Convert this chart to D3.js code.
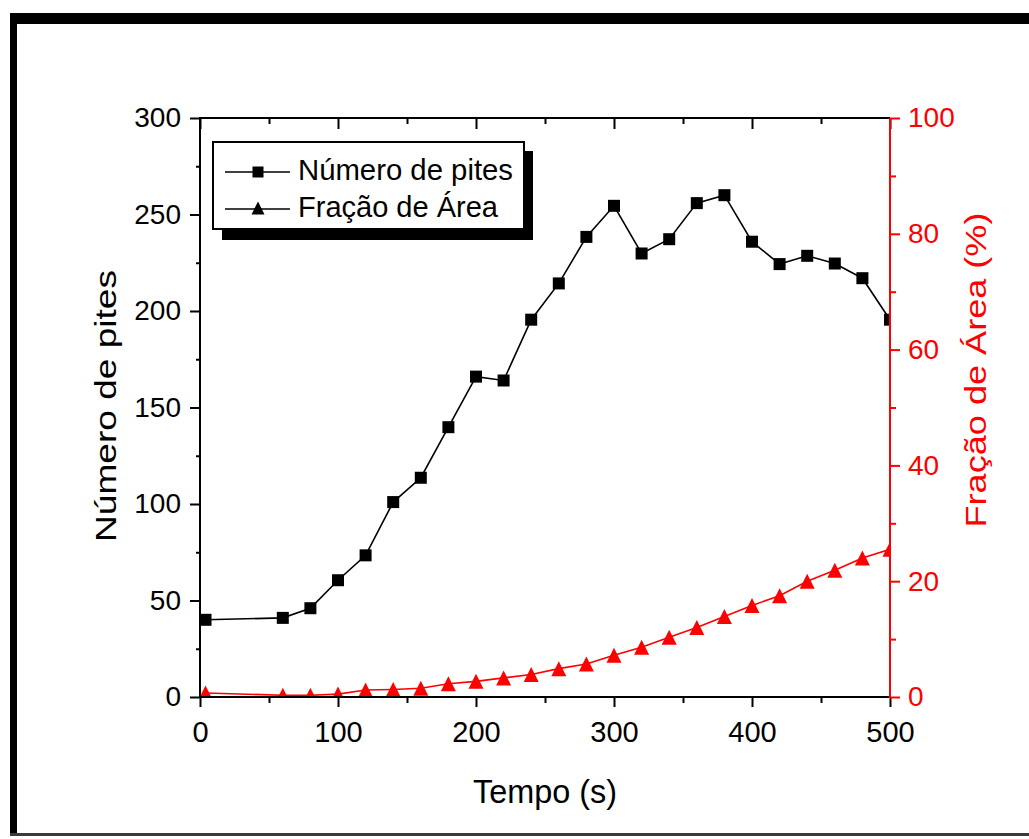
<!DOCTYPE html>
<html><head><meta charset="utf-8">
<script src="https://cdn.jsdelivr.net/npm/d3@7/dist/d3.min.js"></script>
<style>
body{margin:0;background:#fff}
svg{display:block}
text{font-family:"Liberation Sans",Arial,Helvetica,sans-serif}
</style>
</head><body>
<svg id="c" width="1029" height="839"></svg>
<script>
// ---- data ----
const tempo  = [4,60,80,100,120,140,160,180,200,220,240,260,280,300,320,340,360,380,400,420,440,460,480,500];
const pites  = [40,41,46,60.5,73.4,101,113.6,139.8,166,164,195.5,214.3,238.4,254.5,229.8,237.2,255.9,260,235.9,224.3,228.6,224.6,217,195.5];
const fracao = [0.7,0.3,0.3,0.5,1.2,1.3,1.5,2.3,2.7,3.3,3.9,4.9,5.7,7.2,8.6,10.3,12.0,13.9,15.8,17.5,20.0,21.9,24.0,25.5];
const xTicks = [0,100,200,300,400,500];
const xMinor = [50,150,250,350,450];
const yLeftTicks = [0,50,100,150,200,250,300];
const yLeftMinor = [25,75,125,175,225,275];
const yRightTicks = [0,20,40,60,80,100];
const yRightMinor = [10,30,50,70,90];
const seriesNames = ["Número de pites","Fração de Área"];
const xTitle = "Tempo (s)";
const yLeftTitle = "Número de pites";
const yRightTitle = "Fração de Área (%)";

// ---- layout ----
const L=200, R=890, T=118, B=697;
const RED="#ff0000";
const svg=d3.select("#c");

// outer frame
svg.append("rect").attr("x",10).attr("y",13).attr("width",1019).attr("height",11).attr("fill","#000");
svg.append("rect").attr("x",10).attr("y",13).attr("width",7).attr("height",822).attr("fill","#000");
svg.append("rect").attr("x",10).attr("y",833).attr("width",1019).attr("height",3).attr("fill","#3a3a3a");

const x=d3.scaleLinear().domain([0,500]).range([L,R]);
const yL=d3.scaleLinear().domain([0,300]).range([B,T]);
const yR=d3.scaleLinear().domain([0,100]).range([B,T]);

function styleAxis(g,color){
  g.select(".domain").remove();
  g.selectAll(".tick line").attr("stroke",color).attr("stroke-width",2);
  g.selectAll(".tick text").attr("fill",color).style("font-size","28px");
}

// bottom axis
const gB=svg.append("g").attr("transform",`translate(0,${B})`)
  .call(d3.axisBottom(x).tickValues(xTicks).tickSize(10).tickPadding(14).tickFormat(d3.format("d")));
styleAxis(gB,"#000"); gB.selectAll(".tick text").style("font-size","29px");
const gBm=svg.append("g").attr("transform",`translate(0,${B})`)
  .call(d3.axisBottom(x).tickValues(xMinor).tickSize(6).tickFormat(""));
styleAxis(gBm,"#000");
// top axis (ticks inward)
const gT=svg.append("g").attr("transform",`translate(0,${T})`)
  .call(d3.axisBottom(x).tickValues(xTicks).tickSize(11).tickFormat(""));
styleAxis(gT,"#000");
const gTm=svg.append("g").attr("transform",`translate(0,${T})`)
  .call(d3.axisBottom(x).tickValues(xMinor).tickSize(6).tickFormat(""));
styleAxis(gTm,"#000");
// left axis
const gL=svg.append("g").attr("transform",`translate(${L},0)`)
  .call(d3.axisLeft(yL).tickValues(yLeftTicks).tickSize(10).tickPadding(9).tickFormat(d3.format("d")));
styleAxis(gL,"#000");
const gLm=svg.append("g").attr("transform",`translate(${L},0)`)
  .call(d3.axisLeft(yL).tickValues(yLeftMinor).tickSize(4).tickFormat(""));
styleAxis(gLm,"#000");
// right axis
const gR=svg.append("g").attr("transform",`translate(${R},0)`)
  .call(d3.axisRight(yR).tickValues(yRightTicks).tickSize(10).tickPadding(8).tickFormat(d3.format("d")));
styleAxis(gR,RED);
const gRm=svg.append("g").attr("transform",`translate(${R},0)`)
  .call(d3.axisRight(yR).tickValues(yRightMinor).tickSize(6).tickFormat(""));
styleAxis(gRm,RED);

// frame lines
svg.append("line").attr("x1",L).attr("x2",R).attr("y1",T).attr("y2",T).attr("stroke","#000").attr("stroke-width",2);
svg.append("line").attr("x1",L-1).attr("x2",R).attr("y1",B).attr("y2",B).attr("stroke","#000").attr("stroke-width",2);
svg.append("line").attr("x1",L).attr("x2",L).attr("y1",T-1).attr("y2",B+1).attr("stroke","#000").attr("stroke-width",2);
svg.append("line").attr("x1",R).attr("x2",R).attr("y1",T).attr("y2",B+1).attr("stroke",RED).attr("stroke-width",2);

// clip
svg.append("clipPath").attr("id","plotclip").append("rect")
  .attr("x",L+1).attr("y",T+1).attr("width",R-L-2).attr("height",B-T-2);
const plot=svg.append("g").attr("clip-path","url(#plotclip)");

const triPath=(s)=>`M0,${-s/2}L${s/2},${s/2}L${-s/2},${s/2}Z`;

// series 1
const d1=tempo.map((t,i)=>[t,pites[i]]);
plot.append("path").datum(d1).attr("fill","none").attr("stroke","#000").attr("stroke-width",1.6)
  .attr("d",d3.line().x(d=>x(d[0])).y(d=>yL(d[1])));
plot.selectAll("rect.sq").data(d1).join("rect").attr("class","sq")
  .attr("x",d=>x(d[0])-6).attr("y",d=>yL(d[1])-6).attr("width",12).attr("height",12).attr("fill","#000");

// series 2
const d2=tempo.map((t,i)=>[t,fracao[i]]);
plot.append("path").datum(d2).attr("fill","none").attr("stroke",RED).attr("stroke-width",1.6)
  .attr("d",d3.line().x(d=>x(d[0])).y(d=>yR(d[1])));
plot.selectAll("path.tri").data(d2).join("path").attr("class","tri")
  .attr("transform",d=>`translate(${x(d[0])},${yR(d[1])})`).attr("d",triPath(15)).attr("fill",RED);

// axis titles
svg.append("text").attr("x",545).attr("y",803).attr("text-anchor","middle")
  .attr("textLength",144).attr("lengthAdjust","spacingAndGlyphs")
  .style("font-size","34px").attr("fill","#000").text(xTitle);
svg.append("text").attr("transform","translate(116,406) rotate(-90)").attr("text-anchor","middle")
  .attr("textLength",272).attr("lengthAdjust","spacingAndGlyphs")
  .style("font-size","29px").attr("fill","#000").text(yLeftTitle);
svg.append("text").attr("transform","translate(986,370) rotate(-90)").attr("text-anchor","middle")
  .attr("textLength",315).attr("lengthAdjust","spacingAndGlyphs")
  .style("font-size","30px").attr("fill",RED).text(yRightTitle);

// legend
svg.append("rect").attr("x",222).attr("y",151).attr("width",311).attr("height",89).attr("fill","#000");
svg.append("rect").attr("x",213).attr("y",142).attr("width",311).attr("height",87).attr("fill","#fff").attr("stroke","#000").attr("stroke-width",2);
const lg=svg.append("g");
const rows=[172,209];
rows.forEach((ry,i)=>{
  lg.append("line").attr("x1",225).attr("x2",290).attr("y1",ry).attr("y2",ry).attr("stroke","#000").attr("stroke-width",1.6);
  if(i===0){
    lg.append("rect").attr("x",258-5.5).attr("y",ry-5.5).attr("width",11).attr("height",11).attr("fill","#000");
  } else {
    lg.append("path").attr("transform",`translate(258,${ry-1})`).attr("d",triPath(13)).attr("fill","#000");
  }
  lg.append("text").attr("x",298).attr("y",ry+8)
    .attr("textLength",i===0?215:200).attr("lengthAdjust","spacingAndGlyphs")
    .style("font-size","29px").attr("fill","#000").text(seriesNames[i]);
});
</script>
</body></html>
